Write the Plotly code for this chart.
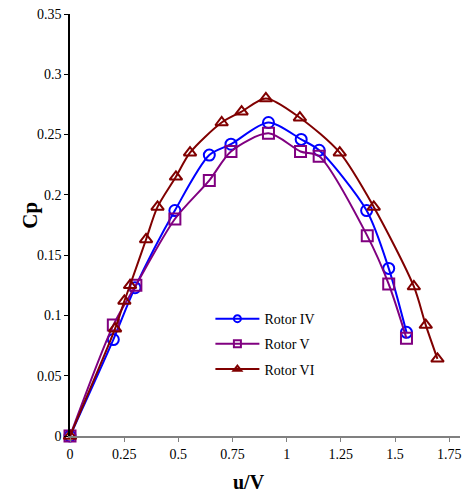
import plotly.graph_objects as go

# Rotor IV
x_iv = [0, 0.2, 0.30, 0.484, 0.643, 0.743, 0.916, 1.067, 1.15, 1.369, 1.471, 1.553]
cp_iv = [0, 0.080, 0.123, 0.187, 0.233, 0.242, 0.260, 0.246, 0.237, 0.187, 0.139, 0.086]
# Rotor V
x_v = [0, 0.2, 0.304, 0.484, 0.643, 0.743, 0.916, 1.064, 1.15, 1.372, 1.471, 1.553]
cp_v = [0, 0.092, 0.125, 0.180, 0.212, 0.236, 0.251, 0.236, 0.232, 0.166, 0.126, 0.081]
# Rotor VI
x_vi = [0, 0.208, 0.251, 0.277, 0.351, 0.404, 0.489, 0.554, 0.700, 0.792, 0.904,
        1.061, 1.245, 1.402, 1.587, 1.642, 1.696]
cp_vi = [0, 0.089, 0.112, 0.125, 0.163, 0.190, 0.215, 0.235, 0.260, 0.269, 0.280,
         0.264, 0.235, 0.190, 0.124, 0.092, 0.064]

x_ticks = [0, 0.25, 0.5, 0.75, 1, 1.25, 1.5, 1.75]
x_tick_labels = ["0", "0.25", "0.5", "0.75", "1", "1.25", "1.5", "1.75"]
y_ticks = [0, 0.05, 0.1, 0.15, 0.2, 0.25, 0.3, 0.35]
y_tick_labels = ["0", "0.05", "0.1", "0.15", "0.2", "0.25", "0.3", "0.35"]

series = [
    ("Rotor IV", x_iv, cp_iv, "#0000FF", "circle-open"),
    ("Rotor V", x_v, cp_v, "#800080", "square-open"),
    ("Rotor VI", x_vi, cp_vi, "#800000", "triangle-up-open"),
]

fig = go.Figure()
for name, xs, ys, col, sym in series:
    fig.add_trace(go.Scatter(
        x=xs, y=ys, name=name, mode="lines+markers", legendgroup=name, showlegend=False,
        line=dict(color=col, width=2, shape="spline", smoothing=0.8),
        marker=dict(symbol=sym, size=11, color=col, line=dict(width=2, color=col)),
        cliponaxis=False,
    ))
# legend entries (smaller symbols, as in the reference legend)
for name, xs, ys, col, sym in series:
    fig.add_trace(go.Scatter(
        x=[None], y=[None], name=name, mode="lines+markers", legendgroup=name,
        line=dict(color=col, width=2),
        marker=dict(symbol=sym, size=7, color=col, line=dict(width=2, color=col)),
    ))

serif = "Liberation Serif, Times New Roman, serif"
fig.update_layout(
    width=464, height=497,
    margin=dict(l=70, r=4, t=14, b=61),
    paper_bgcolor="white", plot_bgcolor="white",
    font=dict(family=serif, size=14, color="#000000"),
    showlegend=True,
    legend=dict(x=0.36, y=0.315, xanchor="left", yanchor="top",
                bgcolor="rgba(0,0,0,0)", font=dict(family=serif, size=14, color="#000"),
                traceorder="grouped", tracegroupgap=4, itemwidth=44),
    xaxis=dict(range=[0, 1.8], tickvals=x_ticks, ticktext=x_tick_labels,
               showgrid=False, zeroline=False, showline=True, linecolor="#808080",
               linewidth=2, ticks="outside", ticklen=4, tickcolor="#808080",
               tickfont=dict(family=serif, size=14, color="#000")),
    yaxis=dict(range=[0, 0.35], tickvals=y_ticks, ticktext=y_tick_labels,
               showgrid=False, zeroline=False, showline=True, linecolor="#000000",
               linewidth=1.5, ticks="outside", ticklen=4, tickcolor="#000",
               tickfont=dict(family=serif, size=14, color="#000")),
    annotations=[
        dict(text="<b>u/V</b>", xref="paper", yref="paper", x=0.458, y=-0.14,
             showarrow=False, font=dict(family=serif, size=20, color="#000"),
             xanchor="center", yanchor="bottom"),
        dict(text="<b>Cp</b>", xref="paper", yref="paper", x=-0.103, y=0.524,
             showarrow=False, textangle=-90, font=dict(family=serif, size=21, color="#000"),
             xanchor="center", yanchor="middle"),
    ],
)

fig.write_html("out.html")
